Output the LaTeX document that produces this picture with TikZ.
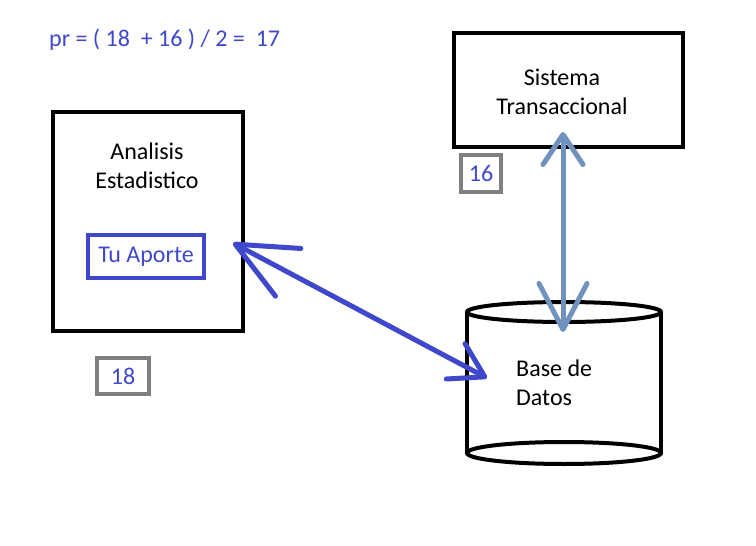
\documentclass[tikz,border=0pt]{standalone}
\usepackage{fontspec}
\setmainfont{Carlito}
\usetikzlibrary{arrows.meta}
\definecolor{indigo}{RGB}{63,72,204}
\definecolor{bluegray}{RGB}{112,146,190}
\definecolor{boxgray}{RGB}{127,127,127}

\begin{document}
\begin{tikzpicture}[x=1pt,y=-1pt,
		font=\fontsize{24}{29}\selectfont,
		caja/.style={draw=black, line width=4pt},
		numero/.style={draw=boxgray, line width=4pt, text=indigo},
		flecha/.style={line width=5pt, line cap=round}]
		\tikzstyle{every node}+=[inner sep=0pt]
		\useasboundingbox (0,0) rectangle (756,546);
		\node [anchor=west, text=indigo] (formula) at (49,40) {pr = ( 18\ \ + 16 ) / 2 =\ \ 17};
		\node [caja, minimum width=190pt, minimum height=219pt] (analisis) at (148,221.5) {};
		\node [align=center] (analisistxt) at (147,166) {Analisis\\Estadistico};
		\node [draw=indigo, line width=4pt, text=indigo, minimum width=116pt, minimum height=43pt] (aporte) at (146,256.5) {Tu Aporte};
		\node [numero, minimum width=52pt, minimum height=36pt] (n18) at (123,376) {18};
		\node [caja, minimum width=229pt, minimum height=114pt] (sistema) at (568.5,90) {};
		\node [align=center] (sistematxt) at (562,92) {Sistema\\Transaccional};
		\node [numero, minimum width=40pt, minimum height=37pt] (n16) at (481,173.5) {16};
		% base de datos
		\draw [black, line width=4pt] (467,312) -- (467,453) (661,312) -- (661,453);
		\draw [black, line width=4pt] (564,312) ellipse [x radius=97, y radius=10];
		\draw [black, line width=4pt] (564,453) ellipse [x radius=97, y radius=11];
		\node [align=left, anchor=west] (base) at (516,383) {Base de\\Datos};
		% flechas
		\coordinate (sarriba) at (563,132);
		\coordinate (sabajo) at (563,332);
		\coordinate (aizq) at (233,243);
		\coordinate (ader) at (487,378);
		\draw [flecha, bluegray, {Straight Barb[round,length=30pt,width=40pt]}-{Straight Barb[round,length=46pt,width=48pt]}] (sarriba) -- (sabajo);
		\draw [flecha, indigo, {Straight Barb[round,length=60pt,width=54pt]}-{Straight Barb[round,length=33pt,width=40pt]}] (aizq) -- (ader);
		\end{tikzpicture}
\end{document}
